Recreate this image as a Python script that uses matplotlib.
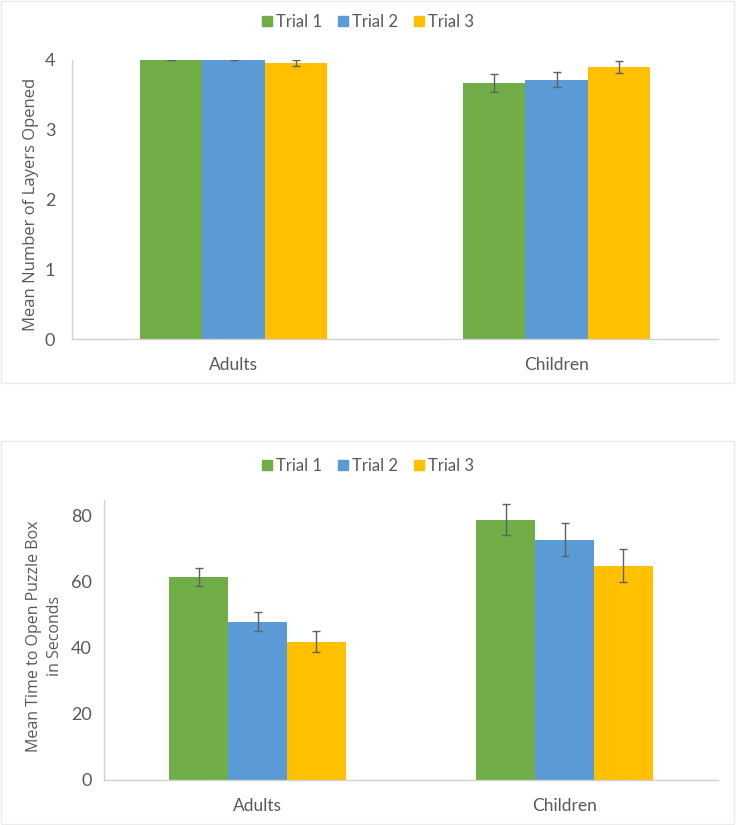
import matplotlib
matplotlib.use("Agg")
import matplotlib.pyplot as plt
from matplotlib.patches import Rectangle, Patch
import numpy as np

groups = ["Adults", "Children"]
trials = ["Trial 1", "Trial 2", "Trial 3"]
colors = ["#70AD47", "#5B9BD5", "#FFC000"]

# Panel 1: mean number of layers opened
layers_mean = [[4.00, 3.67], [4.00, 3.72], [3.96, 3.90]]
layers_err = [[0.00, 0.13], [0.00, 0.11], [0.04, 0.08]]

# Panel 2: mean time to open puzzle box (s)
time_mean = [[61.5, 78.8], [47.9, 72.8], [41.9, 64.9]]
time_err = [[2.7, 4.7], [2.9, 5.0], [3.2, 5.0]]

W, H = 736, 825
fig = plt.figure(figsize=(W / 100, H / 100), dpi=100)
tick_font = "Lato"
label_font = "Open Sans"
txt_col = "#595959"
axis_col = "#D0D0D0"

# faint panel frames
for (y0, y1) in [(1, 383), (441, 824)]:
    fig.add_artist(Rectangle((1 / W, 1 - y1 / H), 733 / W, (y1 - y0) / H,
                             transform=fig.transFigure, fill=False,
                             edgecolor="#EBEBEB", lw=1.0))


def panel(rect, means, errs, ylim, yticks, ylabel, legend_y, label_xy,
          ypad, lsize):
    ax = fig.add_axes(rect)
    x = np.arange(len(groups))
    w = 0.192
    for i, t in enumerate(trials):
        ax.bar(x + (i - 1) * w, means[i], width=w, color=colors[i], label=t,
               zorder=2)
        ax.errorbar(x + (i - 1) * w, means[i], yerr=errs[i], fmt="none",
                    ecolor="#606060", elinewidth=1.0, capsize=3.2,
                    capthick=1.0, zorder=3)
    ax.set_xlim(-0.5, 1.5)
    ax.set_ylim(*ylim)
    ax.set_yticks(yticks)
    ax.set_yticklabels([str(v) for v in yticks], fontfamily=tick_font,
                       fontsize=13, color=txt_col)
    ax.set_xticks(x)
    ax.set_xticklabels(groups, fontfamily=tick_font, fontsize=12.5,
                       color=txt_col)
    ax.tick_params(axis="both", length=0)
    ax.tick_params(axis="y", pad=ypad)
    ax.tick_params(axis="x", pad=13)
    for s in ["top", "right"]:
        ax.spines[s].set_visible(False)
    for s in ["left", "bottom"]:
        ax.spines[s].set_color(axis_col)
        ax.spines[s].set_linewidth(1.0)
    fig.text(label_xy[0] / W, 1 - label_xy[1] / H, ylabel, rotation=90,
             ha="center", va="center", fontfamily=label_font, fontsize=lsize,
             color=txt_col, linespacing=1.45, multialignment="center")
    handles = [Patch(color=c, label=t) for c, t in zip(colors, trials)]
    fig.legend(handles=handles, loc="center", ncol=3,
               bbox_to_anchor=(0.5, legend_y), frameon=False,
               prop={"family": tick_font, "size": 12},
               labelcolor=txt_col, handlelength=0.6, handleheight=0.6,
               handletextpad=0.3, columnspacing=0.9)
    return ax


ax1 = panel([72 / W, 1 - 339 / H, 646 / W, 279 / H], layers_mean, layers_err,
            (0, 4), [0, 1, 2, 3, 4], "Mean Number of Layers Opened",
            1 - 22 / H, (31, 204), 12, 12)

ax2 = panel([104 / W, 1 - 780 / H, 614 / W, 280 / H], time_mean, time_err,
            (0, 84.8), [0, 20, 40, 60, 80],
            "Mean Time to Open Puzzle Box\nin Seconds",
            1 - 466 / H, (44.5, 636), 9, 11.5)

fig.savefig("out.png", dpi=100, facecolor="white")
